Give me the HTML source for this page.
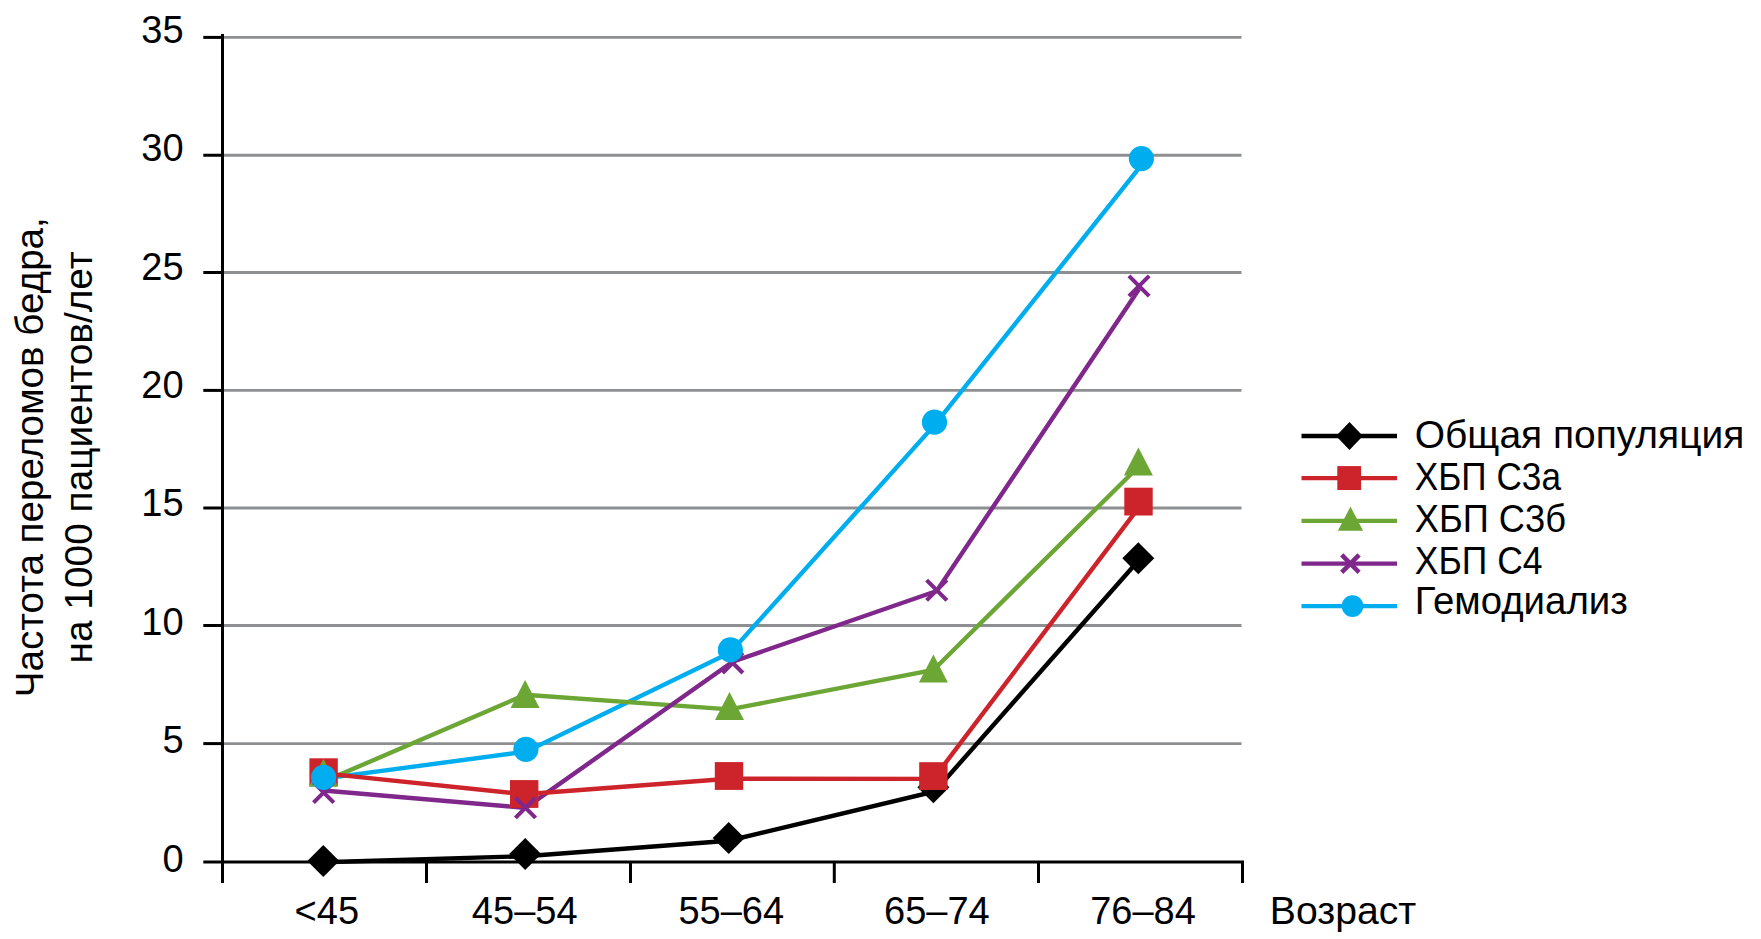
<!DOCTYPE html>
<html lang="ru"><head><meta charset="utf-8"><title>Частота переломов бедра</title>
<style>html,body{margin:0;padding:0;background:#fff;overflow:hidden}svg{display:block}text{font-family:"Liberation Sans",sans-serif;font-size:38px;fill:#000}</style></head><body>
<svg width="1761" height="939" viewBox="0 0 1761 939">
<rect width="1761" height="939" fill="#fff"/>
<line x1="223" y1="743.60" x2="1241.5" y2="743.60" stroke="#8d8f91" stroke-width="2.9"/>
<line x1="223" y1="625.50" x2="1241.5" y2="625.50" stroke="#8d8f91" stroke-width="2.9"/>
<line x1="223" y1="508.00" x2="1241.5" y2="508.00" stroke="#8d8f91" stroke-width="2.9"/>
<line x1="223" y1="390.40" x2="1241.5" y2="390.40" stroke="#8d8f91" stroke-width="2.9"/>
<line x1="223" y1="272.50" x2="1241.5" y2="272.50" stroke="#8d8f91" stroke-width="2.9"/>
<line x1="223" y1="155.25" x2="1241.5" y2="155.25" stroke="#8d8f91" stroke-width="2.9"/>
<line x1="223" y1="37.40" x2="1241.5" y2="37.40" stroke="#8d8f91" stroke-width="2.9"/>
<line x1="222.5" y1="34" x2="222.5" y2="883" stroke="#000" stroke-width="3"/>
<line x1="203.3" y1="861.9" x2="1244" y2="861.9" stroke="#000" stroke-width="3"/>
<line x1="203.3" y1="743.60" x2="223" y2="743.60" stroke="#000" stroke-width="3"/>
<line x1="203.3" y1="625.50" x2="223" y2="625.50" stroke="#000" stroke-width="3"/>
<line x1="203.3" y1="508.00" x2="223" y2="508.00" stroke="#000" stroke-width="3"/>
<line x1="203.3" y1="390.40" x2="223" y2="390.40" stroke="#000" stroke-width="3"/>
<line x1="203.3" y1="272.50" x2="223" y2="272.50" stroke="#000" stroke-width="3"/>
<line x1="203.3" y1="155.25" x2="223" y2="155.25" stroke="#000" stroke-width="3"/>
<line x1="203.3" y1="37.40" x2="223" y2="37.40" stroke="#000" stroke-width="3"/>
<line x1="426.5" y1="861" x2="426.5" y2="883" stroke="#000" stroke-width="3"/>
<line x1="630.5" y1="861" x2="630.5" y2="883" stroke="#000" stroke-width="3"/>
<line x1="834.3" y1="861" x2="834.3" y2="883" stroke="#000" stroke-width="3"/>
<line x1="1038.5" y1="861" x2="1038.5" y2="883" stroke="#000" stroke-width="3"/>
<line x1="1242.5" y1="861" x2="1242.5" y2="883" stroke="#000" stroke-width="3"/>
<text x="183.6" y="871.6" text-anchor="end">0</text>
<text x="183.6" y="753.2" text-anchor="end">5</text>
<text x="183.6" y="634.8" text-anchor="end">10</text>
<text x="183.6" y="516.4" text-anchor="end">15</text>
<text x="183.6" y="398.1" text-anchor="end">20</text>
<text x="183.6" y="279.7" text-anchor="end">25</text>
<text x="183.6" y="161.3" text-anchor="end">30</text>
<text x="183.6" y="42.9" text-anchor="end">35</text>
<text x="326.8" y="923.5" text-anchor="middle">&lt;45</text>
<text x="524.7" y="923.5" text-anchor="middle">45–54</text>
<text x="731.3" y="923.5" text-anchor="middle">55–64</text>
<text x="936.9" y="923.5" text-anchor="middle">65–74</text>
<text x="1143" y="923.5" text-anchor="middle">76–84</text>
<text x="1269.8" y="923.6" font-size="39.5" textLength="146.5" lengthAdjust="spacingAndGlyphs">Возраст</text>
<text transform="translate(43.1,697.2) rotate(-90)" font-size="41.5" textLength="480" lengthAdjust="spacingAndGlyphs">Частота переломов бедра,</text>
<text transform="translate(92.1,663.5) rotate(-90)" font-size="41.5" textLength="412" lengthAdjust="spacingAndGlyphs">на 1000 пациентов/лет</text>
<polyline points="323.3,862.2 525.2,856.2 728.7,840.7 934.75,791.5 1138.3,560.8" fill="none" stroke="#000000" stroke-width="4.4" stroke-linejoin="miter"/>
<polyline points="323.6,778.6 525.9,751.7 730.4,652.5 934.5,425.2 1139.4,167.7" fill="none" stroke="#00adef" stroke-width="4.4" stroke-linejoin="miter"/>
<polyline points="323.6,781.6 525.1,694.8 729.5,709.4 933.4,670.0 1138.4,466.8" fill="none" stroke="#6ca635" stroke-width="4.4" stroke-linejoin="miter"/>
<polyline points="323.6,790.5 525.5,807.9 732.7,661.7 936.7,591.0 1139.1,289.0" fill="none" stroke="#7f278a" stroke-width="4.4" stroke-linejoin="miter"/>
<polyline points="323.6,773.4 524.2,794.2 729,778.8 933.35,778.9 1138.5,507.8" fill="none" stroke="#cd232a" stroke-width="4.4" stroke-linejoin="miter"/>
<path d="M323.3 845.1L339.3 861.1L323.3 877.1L307.3 861.1Z" fill="#000000"/>
<path d="M525.2 837.9L541.2 853.9L525.2 869.9L509.2 853.9Z" fill="#000000"/>
<path d="M728.7 822.1L744.7 838.1L728.7 854.1L712.7 838.1Z" fill="#000000"/>
<path d="M933.4 771.3L949.4 787.3L933.4 803.3L917.4 787.3Z" fill="#000000"/>
<path d="M1138.3 542.2L1154.3 558.2L1138.3 574.2L1122.3 558.2Z" fill="#000000"/>
<rect x="309.4" y="758.3" width="28.4" height="27.8" fill="#cd232a"/>
<rect x="510.0" y="780.1" width="28.4" height="27.8" fill="#cd232a"/>
<rect x="714.8" y="762.1" width="28.4" height="27.8" fill="#cd232a"/>
<rect x="919.2" y="762.2" width="28.4" height="27.8" fill="#cd232a"/>
<rect x="1124.3" y="487.7" width="28.4" height="27.8" fill="#cd232a"/>
<path d="M323.5 758.8L338.0 786.8L309.0 786.8Z" fill="#6ca635"/>
<path d="M525.1 680.1L539.6 708.1L510.6 708.1Z" fill="#6ca635"/>
<path d="M729.5 692.0L744.0 720.0L715.0 720.0Z" fill="#6ca635"/>
<path d="M933.4 654.5L947.9 682.5L918.9 682.5Z" fill="#6ca635"/>
<path d="M1138.4 447.5L1152.9 475.5L1123.9 475.5Z" fill="#6ca635"/>
<path d="M313.5 782.4L333.8 802.6M313.5 802.6L333.8 782.4" stroke="#7f278a" stroke-width="4.1" fill="none"/>
<path d="M515.4 797.6L535.6 817.9M515.4 817.9L535.6 797.6" stroke="#7f278a" stroke-width="4.1" fill="none"/>
<path d="M722.6 652.8L742.9 673.0M722.6 673.0L742.9 652.8" stroke="#7f278a" stroke-width="4.1" fill="none"/>
<path d="M926.6 580.1L946.9 600.4M926.6 600.4L946.9 580.1" stroke="#7f278a" stroke-width="4.1" fill="none"/>
<path d="M1128.9 275.9L1149.2 296.1M1128.9 296.1L1149.2 275.9" stroke="#7f278a" stroke-width="4.1" fill="none"/>
<circle cx="323.6" cy="777.3" r="12.6" fill="#00adef"/>
<circle cx="525.9" cy="749.3" r="12.6" fill="#00adef"/>
<circle cx="730.4" cy="649.9" r="12.6" fill="#00adef"/>
<circle cx="934.5" cy="422.2" r="12.6" fill="#00adef"/>
<circle cx="1141.4" cy="158.6" r="12.6" fill="#00adef"/>
<line x1="1301.5" y1="436" x2="1397" y2="436" stroke="#000000" stroke-width="4.4"/>
<path d="M1349.5 422.1L1362.9 436L1349.5 449.9L1336.1 436Z" fill="#000000"/>
<text x="1414.8" y="448.3" font-size="39" textLength="329.5" lengthAdjust="spacingAndGlyphs">Общая популяция</text>
<line x1="1301.5" y1="478.1" x2="1397" y2="478.1" stroke="#cd232a" stroke-width="4.4"/>
<rect x="1337.3" y="466.1" width="23.8" height="23.9" fill="#cd232a"/>
<text x="1414.8" y="489.6" font-size="39" textLength="146.2" lengthAdjust="spacingAndGlyphs">ХБП С3а</text>
<line x1="1301.5" y1="520.9" x2="1397" y2="520.9" stroke="#6ca635" stroke-width="4.4"/>
<path d="M1350.5 506.6L1363.1 530.8L1337.9 530.8Z" fill="#6ca635"/>
<text x="1414.8" y="531.5" font-size="39" textLength="151.1" lengthAdjust="spacingAndGlyphs">ХБП С3б</text>
<line x1="1301.5" y1="563.6" x2="1397" y2="563.6" stroke="#7f278a" stroke-width="4.4"/>
<path d="M1341.7 554.9L1359.1 572.3M1341.7 572.3L1359.1 554.9" stroke="#7f278a" stroke-width="4.5" fill="none"/>
<text x="1414.8" y="573.5" font-size="39" textLength="127.8" lengthAdjust="spacingAndGlyphs">ХБП С4</text>
<line x1="1301.5" y1="606.1" x2="1397" y2="606.1" stroke="#00adef" stroke-width="4.4"/>
<circle cx="1352.5" cy="606.1" r="10.85" fill="#00adef"/>
<text x="1414.8" y="614.0" font-size="39" textLength="213" lengthAdjust="spacingAndGlyphs">Гемодиализ</text>
</svg></body></html>
